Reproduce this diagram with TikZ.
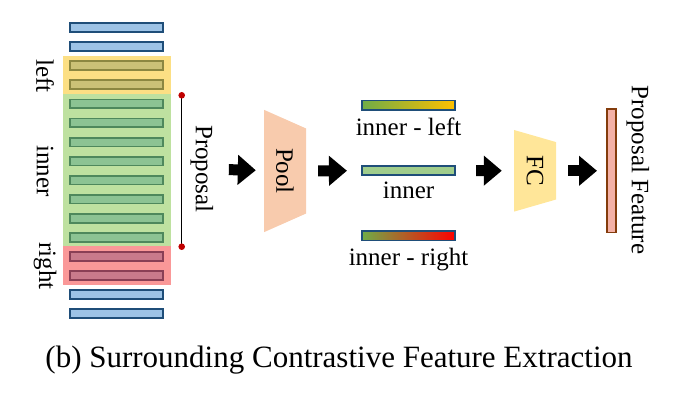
\documentclass[tikz,border=0pt]{standalone}
\usepackage{fontspec}
\setmainfont{Liberation Serif}
\usetikzlibrary{positioning, shapes.geometric, arrows.meta}
\definecolor{BarBlue}{RGB}{157,195,230}
\definecolor{BarEdge}{RGB}{31,78,121}
\definecolor{BandYellow}{RGB}{250,192,10}
\definecolor{BandGreen}{RGB}{125,195,65}
\definecolor{BandRed}{RGB}{245,50,50}
\definecolor{ProposalRed}{RGB}{192,0,0}
\definecolor{PoolPeach}{RGB}{248,203,173}
\definecolor{FCYellow}{RGB}{255,230,153}
\definecolor{GradGreen}{RGB}{112,173,71}
\definecolor{GradGold}{RGB}{255,192,0}
\definecolor{GradRed}{RGB}{255,0,0}
\definecolor{InnerGreen}{RGB}{160,205,140}
\definecolor{FeaturePink}{RGB}{244,177,166}
\definecolor{FeatureBrown}{RGB}{132,60,12}
\begin{document}
\begin{tikzpicture}[x=1pt, y=-1pt,
  bar/.style = {rectangle, draw=BarEdge, line width=1.8pt, fill=BarBlue, minimum width=93pt, minimum height=8.8pt, inner sep=0pt},
  band/.style = {rectangle, fill opacity=0.5, minimum width=108pt, inner sep=0pt},
  pooled/.style = {rectangle, draw=BarEdge, line width=1.6pt, minimum width=93.5pt, minimum height=9.5pt, inner sep=0pt},
  blockarrow/.style = {line width=11pt, -{Triangle[length=18pt, width=29pt]}},
  font=\fontsize{25pt}{30pt}\selectfont]
  \useasboundingbox (0, 0) rectangle (675, 404);

  % Bars.
  \node at (116.8, 27.7) [bar, name=Bar1] {};
  \node at (116.8, 46.7) [bar, name=Bar2] {};
  \node at (116.8, 65.8) [bar, name=Bar3] {};
  \node at (116.8, 84.8) [bar, name=Bar4] {};
  \node at (116.8, 103.9) [bar, name=Bar5] {};
  \node at (116.8, 122.9) [bar, name=Bar6] {};
  \node at (116.8, 142.0) [bar, name=Bar7] {};
  \node at (116.8, 161.0) [bar, name=Bar8] {};
  \node at (116.8, 180.1) [bar, name=Bar9] {};
  \node at (116.8, 199.1) [bar, name=Bar10] {};
  \node at (116.8, 218.2) [bar, name=Bar11] {};
  \node at (116.8, 237.2) [bar, name=Bar12] {};
  \node at (116.8, 256.3) [bar, name=Bar13] {};
  \node at (116.8, 275.3) [bar, name=Bar14] {};
  \node at (116.8, 294.4) [bar, name=Bar15] {};
  \node at (116.8, 313.4) [bar, name=Bar16] {};

  % Bands over the bars.
  \node at (116.8, 75.2) [band, fill=BandYellow, minimum height=38.3pt, name=LeftBand] {};
  \node at (116.8, 170.2) [band, fill=BandGreen, minimum height=151.7pt, name=InnerBand] {};
  \node at (116.8, 265.5) [band, fill=BandRed, minimum height=39pt, name=RightBand] {};

  % Band labels.
  \node at (45, 76) [rotate=-90, name=LeftLabel] {left};
  \node at (45, 171) [rotate=-90, name=InnerLabel] {inner};
  \node at (45, 266) [rotate=-90, name=RightLabel] {right};

  % Proposal span.
  \coordinate (ProposalTop) at (181.7, 95.3);
  \coordinate (ProposalBottom) at (181.7, 246.7);
  \draw [line width=1pt] (ProposalTop) -- (ProposalBottom);
  \fill [ProposalRed] (ProposalTop) circle (3.3pt);
  \fill [ProposalRed] (ProposalBottom) circle (3.3pt);
  \node at (202, 169) [rotate=-90, name=ProposalLabel] {Proposal};

  % Pooling and the pooled features.
  \node at (285, 171) [trapezium, rotate=-90, trapezium left angle=60.3, trapezium right angle=60.3, trapezium stretches=true, minimum width=123pt, minimum height=42pt, inner sep=0pt, fill=PoolPeach, name=Pool] {Pool};
  \node at (408.5, 105.3) [pooled, left color=GradGreen, right color=GradGold, name=LeftFeature] {};
  \node at (408.5, 170.5) [pooled, fill=InnerGreen, name=InnerFeature] {};
  \node at (408.5, 235.8) [pooled, left color=GradGreen, right color=GradRed, name=RightFeature] {};
  \node [below=7pt of LeftFeature, inner sep=0pt, name=LeftFeatureLabel] {inner - left};
  \node [below=6pt of InnerFeature, inner sep=0pt, name=InnerFeatureLabel] {inner};
  \node [below=7pt of RightFeature, inner sep=0pt, name=RightFeatureLabel] {inner - right};

  % Fully connected layer and the output.
  \node at (535, 170.8) [trapezium, rotate=-90, trapezium left angle=69, trapezium right angle=69, trapezium stretches=true, minimum width=81.7pt, minimum height=42pt, inner sep=0pt, fill=FCYellow, name=FC] {FC};
  \node at (611.3, 170.8) [rectangle, draw=FeatureBrown, line width=1.6pt, fill=FeaturePink, minimum width=9pt, minimum height=123.5pt, inner sep=0pt, name=Feature] {};
  \node at (638, 170) [rotate=-90, name=FeatureLabel] {Proposal Feature};

  % Flow.
  \draw [blockarrow, shorten <=12pt, shorten >=8pt] (ProposalLabel) -- (Pool);
  \draw [blockarrow, shorten <=12pt, shorten >=14pt] (Pool) -- (InnerFeature);
  \draw [blockarrow, shorten <=20pt, shorten >=12pt] (InnerFeature) -- (FC);
  \draw [blockarrow, shorten <=12pt, shorten >=9pt] (FC) -- (Feature);

  % Caption.
  \node at (339, 360) [font=\fontsize{31pt}{36pt}\selectfont, name=Caption] {(b) Surrounding Contrastive Feature Extraction};
\end{tikzpicture}
\end{document}
